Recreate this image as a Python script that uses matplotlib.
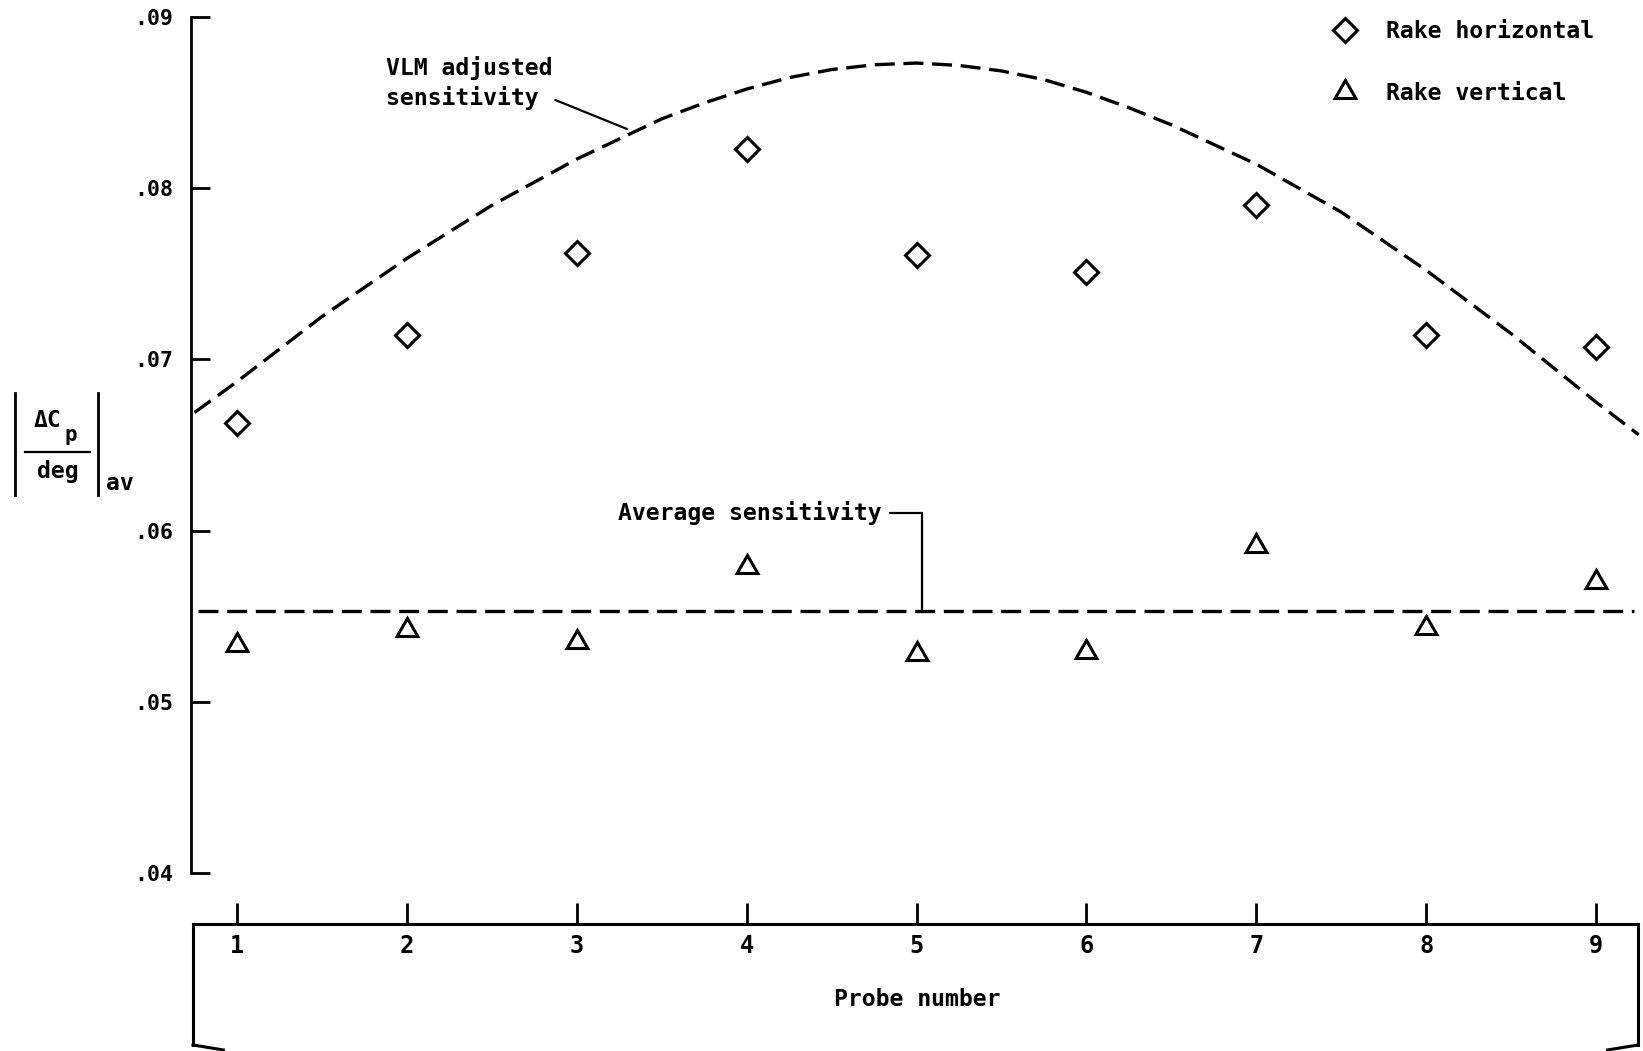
import matplotlib.pyplot as plt
from matplotlib.lines import Line2D

# probe readings, |dCp/deg| averaged
probe = [1, 2, 3, 4, 5, 6, 7, 8, 9]
rake_horizontal = [0.0663, 0.0714, 0.0762, 0.0823, 0.0761, 0.0751, 0.0790, 0.0714, 0.0707]
rake_vertical = [0.0533, 0.0542, 0.0535, 0.0579, 0.0528, 0.0529, 0.0591, 0.0543, 0.0570]

# VLM adjusted sensitivity curve
vlm_probe = [0.75, 1.0, 1.5, 2.0, 2.5, 3.0, 3.5, 3.75, 4.0, 4.25, 4.5, 4.75, 5.0,
             5.25, 5.5, 5.75, 6.0, 6.25, 6.5, 7.0, 7.5, 8.0, 8.5, 9.0, 9.25]
vlm_sens = [0.0669, 0.0687, 0.0725, 0.0759, 0.0790, 0.0817, 0.08405, 0.08498, 0.08579, 0.08646,
            0.08693, 0.08721, 0.08731, 0.08717, 0.08685, 0.08634, 0.08560, 0.08470, 0.08370,
            0.0814, 0.0786, 0.0752, 0.0715, 0.0675, 0.0656]

# average sensitivity level
avg_probe = [0.77, 9.22]
avg_sens = 0.0553

yticks = [0.04, 0.05, 0.06, 0.07, 0.08, 0.09]
ytick_labels = [".04", ".05", ".06", ".07", ".08", ".09"]

MONO = "DejaVu Sans Mono"
plt.rcParams["font.family"] = MONO
plt.rcParams["font.weight"] = "bold"
plt.rcParams["axes.labelweight"] = "bold"

W, H = 1643, 1051
fig = plt.figure(figsize=(W / 100, H / 100), dpi=100)


def fx(px):
    return px / W


def fy(py):
    return (H - py) / H


ax = fig.add_axes([fx(191), fy(924), (W - 191) / W, 924 / H])
ax.set_xlim(0.7293, 9.2755)
ax.set_ylim(0.037021, 0.090993)

dash = dict(color="black", lw=2.4, ls=(0, (6, 2.6)))
ax.plot(vlm_probe, vlm_sens, **dash)
ax.plot(avg_probe, [avg_sens, avg_sens], **dash)

ax.plot(probe, rake_horizontal, ls="none", marker="D", ms=12.2, mfc="white", mec="black", mew=2.2)
ax.plot(probe, rake_vertical, ls="none", marker=(3, 0, 0), ms=17.3, mfc="white", mec="black", mew=2.2)

# axes styling
for s in ["top", "right"]:
    ax.spines[s].set_visible(False)
ax.spines["left"].set_bounds(0.04, 0.09)
ax.spines["left"].set_linewidth(2)
ax.spines["bottom"].set_bounds(0.741, 9.246)
ax.spines["bottom"].set_linewidth(2.2)

ax.set_yticks(yticks)
ax.set_yticklabels(ytick_labels)
ax.tick_params(axis="y", direction="in", length=13.5, width=2, pad=13, labelsize=15.5)
ax.set_xticks(probe)
ax.set_xticklabels([str(p) for p in probe])
ax.tick_params(axis="x", direction="in", length=15, width=2, pad=7, labelsize=17)

ax.set_xlabel("Probe number", fontsize=16.7, labelpad=22)

# y label: |dCp/deg| with subscript av
fig.add_artist(Line2D([fx(15), fx(15)], [fy(393), fy(495)], color="black", lw=2))
fig.add_artist(Line2D([fx(98), fx(98)], [fy(393), fy(495)], color="black", lw=2))
fig.add_artist(Line2D([fx(25), fx(90)], [fy(452), fy(452)], color="black", lw=1.6))
fig.text(fx(34), fy(427), "ΔC", fontsize=16.7, va="baseline", ha="left")
fig.text(fx(65), fy(441), "p", fontsize=15, va="baseline", ha="left")
fig.text(fx(37), fy(478), "deg", fontsize=16.7, va="baseline", ha="left")
fig.text(fx(106), fy(490), "av", fontsize=16.7, va="baseline", ha="left")

# open box under the probe axis
axb = fig.add_axes([fx(193), fy(1045), 1445 / W, 121 / H])
axb.patch.set_visible(False)
axb.set_xticks([])
axb.set_yticks([])
for s in ["top", "bottom"]:
    axb.spines[s].set_visible(False)
for s in ["left", "right"]:
    axb.spines[s].set_linewidth(2.2)
axb.plot([0, 0.021], [0, -0.041], color="black", lw=2.2, transform=axb.transAxes, clip_on=False)
axb.plot([1, 0.979], [0, -0.041], color="black", lw=2.2, transform=axb.transAxes, clip_on=False)

# curve labels
ax.annotate("VLM adjusted\nsensitivity", xy=(3.295, 0.08346), xytext=(1.877, 0.08616),
            ha="left", va="center", fontsize=16.7, linespacing=1.3,
            arrowprops=dict(arrowstyle="-", lw=1.6, color="black", relpos=(1.0, 0.2),
                            shrinkA=0, shrinkB=0))
ax.annotate("Average sensitivity", xy=(5.032, avg_sens), xytext=(4.796, 0.06103),
            ha="right", va="center", fontsize=16.7,
            arrowprops=dict(arrowstyle="-", lw=1.6, color="black", relpos=(1.0, 0.5),
                            connectionstyle="angle,angleA=0,angleB=90,rad=0",
                            shrinkA=4, shrinkB=0))

handles = [
    Line2D([], [], ls="none", marker="D", ms=12.2, mfc="white", mec="black", mew=2.2),
    Line2D([], [], ls="none", marker=(3, 0, 0), ms=17.3, mfc="white", mec="black", mew=2.2),
]
ax.legend(handles, ["Rake horizontal", "Rake vertical"], loc="upper left",
          bbox_to_anchor=(fx(1333), fy(20)), bbox_transform=fig.transFigure,
          frameon=False, borderaxespad=0, borderpad=0, handlelength=1.0,
          handletextpad=1.27, labelspacing=1.68, prop=dict(family=MONO, size=16.7, weight="bold"))

fig.savefig("out.png", dpi=100)
